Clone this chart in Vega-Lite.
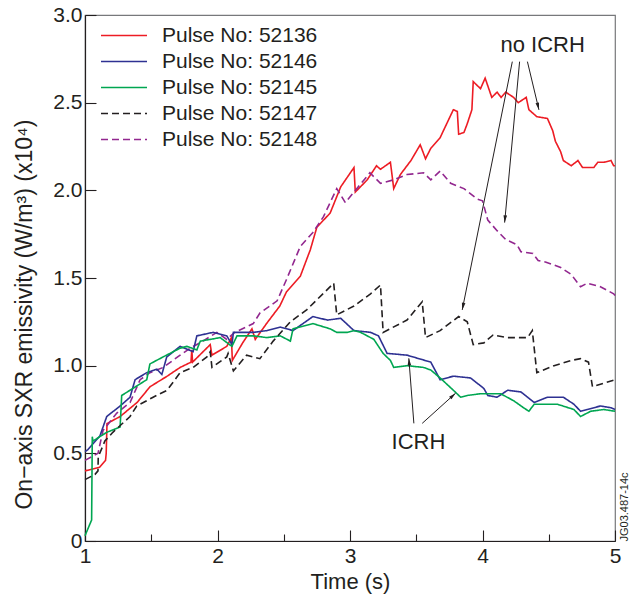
{
  "$schema": "https://vega.github.io/schema/vega-lite/v6.json",
  "width": 530,
  "height": 526,
  "autosize": {"type": "none"},
  "padding": {"left": 85, "top": 15, "right": 20, "bottom": 58},
  "background": "white",
  "config": {
    "font": "Liberation Sans",
    "view": {"stroke": "#77787b", "strokeWidth": 1.2},
    "axis": {"grid": false, "domainColor": "#231f20", "domainWidth": 1.2, "tickColor": "#231f20", "tickWidth": 1.1, "labelColor": "#231f20", "titleColor": "#231f20", "labelFont": "Liberation Sans", "titleFont": "Liberation Sans", "labelFontSize": 21, "titleFontSize": 22, "titleFontWeight": "normal"}
  },
  "layer": [
    {
      "data": {"values": [
        {"s":"52136","t":1.00,"v":0.40},{"s":"52136","t":1.11,"v":0.42},{"s":"52136","t":1.155,"v":0.46},{"s":"52136","t":1.16,"v":0.50},{"s":"52136","t":1.166,"v":0.67},{"s":"52136","t":1.265,"v":0.71},{"s":"52136","t":1.393,"v":0.79},{"s":"52136","t":1.491,"v":0.88},{"s":"52136","t":1.62,"v":0.94},{"s":"52136","t":1.718,"v":0.99},{"s":"52136","t":1.80,"v":1.02},{"s":"52136","t":1.806,"v":1.09},{"s":"52136","t":1.812,"v":1.02},{"s":"52136","t":1.945,"v":1.12},{"s":"52136","t":1.958,"v":1.06},{"s":"52136","t":2.07,"v":1.11},{"s":"52136","t":2.105,"v":1.16},{"s":"52136","t":2.112,"v":1.03},{"s":"52136","t":2.19,"v":1.13},{"s":"52136","t":2.26,"v":1.21},{"s":"52136","t":2.285,"v":1.15},{"s":"52136","t":2.37,"v":1.24},{"s":"52136","t":2.47,"v":1.34},{"s":"52136","t":2.52,"v":1.42},{"s":"52136","t":2.625,"v":1.51},{"s":"52136","t":2.70,"v":1.66},{"s":"52136","t":2.75,"v":1.79},{"s":"52136","t":2.85,"v":1.87},{"s":"52136","t":2.93,"v":2.02},{"s":"52136","t":3.03,"v":2.13},{"s":"52136","t":3.04,"v":1.99},{"s":"52136","t":3.13,"v":2.06},{"s":"52136","t":3.20,"v":2.14},{"s":"52136","t":3.23,"v":2.12},{"s":"52136","t":3.305,"v":2.16},{"s":"52136","t":3.33,"v":2.01},{"s":"52136","t":3.38,"v":2.09},{"s":"52136","t":3.46,"v":2.17},{"s":"52136","t":3.53,"v":2.26},{"s":"52136","t":3.57,"v":2.18},{"s":"52136","t":3.61,"v":2.24},{"s":"52136","t":3.68,"v":2.30},{"s":"52136","t":3.73,"v":2.38},{"s":"52136","t":3.78,"v":2.46},{"s":"52136","t":3.81,"v":2.45},{"s":"52136","t":3.82,"v":2.32},{"s":"52136","t":3.86,"v":2.33},{"s":"52136","t":3.885,"v":2.38},{"s":"52136","t":3.92,"v":2.46},{"s":"52136","t":3.93,"v":2.62},{"s":"52136","t":3.985,"v":2.58},{"s":"52136","t":4.02,"v":2.64},{"s":"52136","t":4.07,"v":2.53},{"s":"52136","t":4.11,"v":2.56},{"s":"52136","t":4.14,"v":2.53},{"s":"52136","t":4.175,"v":2.56},{"s":"52136","t":4.235,"v":2.53},{"s":"52136","t":4.27,"v":2.50},{"s":"52136","t":4.33,"v":2.53},{"s":"52136","t":4.35,"v":2.46},{"s":"52136","t":4.41,"v":2.42},{"s":"52136","t":4.49,"v":2.41},{"s":"52136","t":4.53,"v":2.34},{"s":"52136","t":4.55,"v":2.28},{"s":"52136","t":4.59,"v":2.22},{"s":"52136","t":4.61,"v":2.17},{"s":"52136","t":4.67,"v":2.14},{"s":"52136","t":4.72,"v":2.17},{"s":"52136","t":4.755,"v":2.13},{"s":"52136","t":4.84,"v":2.13},{"s":"52136","t":4.87,"v":2.16},{"s":"52136","t":4.915,"v":2.16},{"s":"52136","t":4.97,"v":2.17},{"s":"52136","t":4.99,"v":2.14},{"s":"52136","t":5.0,"v":2.14},

        {"s":"52148","t":1.0,"v":0.46},{"s":"52148","t":1.098,"v":0.50},{"s":"52148","t":1.136,"v":0.63},{"s":"52148","t":1.24,"v":0.73},{"s":"52148","t":1.34,"v":0.79},{"s":"52148","t":1.416,"v":0.92},{"s":"52148","t":1.49,"v":0.96},{"s":"52148","t":1.59,"v":0.99},{"s":"52148","t":1.718,"v":1.06},{"s":"52148","t":1.794,"v":1.10},{"s":"52148","t":1.89,"v":1.14},{"s":"52148","t":1.995,"v":1.19},{"s":"52148","t":2.07,"v":1.15},{"s":"52148","t":2.13,"v":1.19},{"s":"52148","t":2.27,"v":1.24},{"s":"52148","t":2.32,"v":1.30},{"s":"52148","t":2.45,"v":1.37},{"s":"52148","t":2.52,"v":1.49},{"s":"52148","t":2.625,"v":1.68},{"s":"52148","t":2.72,"v":1.76},{"s":"52148","t":2.80,"v":1.85},{"s":"52148","t":2.90,"v":2.01},{"s":"52148","t":2.965,"v":1.93},{"s":"52148","t":3.03,"v":1.99},{"s":"52148","t":3.15,"v":2.10},{"s":"52148","t":3.23,"v":2.04},{"s":"52148","t":3.33,"v":2.06},{"s":"52148","t":3.43,"v":2.09},{"s":"52148","t":3.555,"v":2.10},{"s":"52148","t":3.61,"v":2.06},{"s":"52148","t":3.68,"v":2.11},{"s":"52148","t":3.76,"v":2.04},{"s":"52148","t":3.86,"v":2.01},{"s":"52148","t":3.96,"v":1.95},{"s":"52148","t":4.0,"v":1.94},{"s":"52148","t":4.04,"v":1.83},{"s":"52148","t":4.11,"v":1.77},{"s":"52148","t":4.175,"v":1.72},{"s":"52148","t":4.26,"v":1.69},{"s":"52148","t":4.29,"v":1.65},{"s":"52148","t":4.38,"v":1.64},{"s":"52148","t":4.42,"v":1.60},{"s":"52148","t":4.48,"v":1.59},{"s":"52148","t":4.59,"v":1.56},{"s":"52148","t":4.67,"v":1.52},{"s":"52148","t":4.74,"v":1.45},{"s":"52148","t":4.79,"v":1.47},{"s":"52148","t":4.89,"v":1.45},{"s":"52148","t":4.99,"v":1.41},{"s":"52148","t":5.0,"v":1.40},

        {"s":"52146","t":1.0,"v":0.51},{"s":"52146","t":1.02,"v":0.52},{"s":"52146","t":1.113,"v":0.60},{"s":"52146","t":1.164,"v":0.71},{"s":"52146","t":1.265,"v":0.77},{"s":"52146","t":1.34,"v":0.82},{"s":"52146","t":1.378,"v":0.92},{"s":"52146","t":1.466,"v":0.96},{"s":"52146","t":1.542,"v":0.98},{"s":"52146","t":1.58,"v":0.95},{"s":"52146","t":1.617,"v":1.05},{"s":"52146","t":1.718,"v":1.11},{"s":"52146","t":1.816,"v":1.08},{"s":"52146","t":1.844,"v":1.17},{"s":"52146","t":1.967,"v":1.19},{"s":"52146","t":2.07,"v":1.17},{"s":"52146","t":2.109,"v":1.12},{"s":"52146","t":2.12,"v":1.19},{"s":"52146","t":2.27,"v":1.19},{"s":"52146","t":2.373,"v":1.20},{"s":"52146","t":2.474,"v":1.22},{"s":"52146","t":2.57,"v":1.20},{"s":"52146","t":2.72,"v":1.28},{"s":"52146","t":2.83,"v":1.26},{"s":"52146","t":2.93,"v":1.27},{"s":"52146","t":3.03,"v":1.20},{"s":"52146","t":3.155,"v":1.19},{"s":"52146","t":3.215,"v":1.17},{"s":"52146","t":3.28,"v":1.07},{"s":"52146","t":3.43,"v":1.06},{"s":"52146","t":3.61,"v":1.02},{"s":"52146","t":3.68,"v":0.92},{"s":"52146","t":3.78,"v":0.94},{"s":"52146","t":3.91,"v":0.93},{"s":"52146","t":4.01,"v":0.87},{"s":"52146","t":4.04,"v":0.83},{"s":"52146","t":4.11,"v":0.82},{"s":"52146","t":4.19,"v":0.86},{"s":"52146","t":4.29,"v":0.85},{"s":"52146","t":4.39,"v":0.79},{"s":"52146","t":4.49,"v":0.82},{"s":"52146","t":4.61,"v":0.82},{"s":"52146","t":4.69,"v":0.78},{"s":"52146","t":4.74,"v":0.74},{"s":"52146","t":4.79,"v":0.75},{"s":"52146","t":4.89,"v":0.77},{"s":"52146","t":4.97,"v":0.76},{"s":"52146","t":5.0,"v":0.75},

        {"s":"52145","t":1.0,"v":0.03},{"s":"52145","t":1.05,"v":0.12},{"s":"52145","t":1.055,"v":0.595},{"s":"52145","t":1.06,"v":0.57},{"s":"52145","t":1.164,"v":0.62},{"s":"52145","t":1.265,"v":0.65},{"s":"52145","t":1.277,"v":0.83},{"s":"52145","t":1.34,"v":0.86},{"s":"52145","t":1.466,"v":0.92},{"s":"52145","t":1.49,"v":1.01},{"s":"52145","t":1.59,"v":1.05},{"s":"52145","t":1.718,"v":1.10},{"s":"52145","t":1.77,"v":1.11},{"s":"52145","t":1.844,"v":1.09},{"s":"52145","t":1.87,"v":1.14},{"s":"52145","t":2.02,"v":1.16},{"s":"52145","t":2.109,"v":1.11},{"s":"52145","t":2.147,"v":1.17},{"s":"52145","t":2.27,"v":1.17},{"s":"52145","t":2.373,"v":1.16},{"s":"52145","t":2.474,"v":1.17},{"s":"52145","t":2.55,"v":1.14},{"s":"52145","t":2.57,"v":1.21},{"s":"52145","t":2.72,"v":1.24},{"s":"52145","t":2.85,"v":1.21},{"s":"52145","t":2.90,"v":1.19},{"s":"52145","t":2.98,"v":1.19},{"s":"52145","t":3.03,"v":1.20},{"s":"52145","t":3.08,"v":1.19},{"s":"52145","t":3.18,"v":1.15},{"s":"52145","t":3.25,"v":1.07},{"s":"52145","t":3.305,"v":1.03},{"s":"52145","t":3.33,"v":0.99},{"s":"52145","t":3.43,"v":1.00},{"s":"52145","t":3.555,"v":0.99},{"s":"52145","t":3.61,"v":0.975},{"s":"52145","t":3.68,"v":0.93},{"s":"52145","t":3.78,"v":0.86},{"s":"52145","t":3.835,"v":0.82},{"s":"52145","t":3.885,"v":0.83},{"s":"52145","t":3.986,"v":0.84},{"s":"52145","t":4.137,"v":0.84},{"s":"52145","t":4.235,"v":0.80},{"s":"52145","t":4.31,"v":0.76},{"s":"52145","t":4.35,"v":0.74},{"s":"52145","t":4.39,"v":0.78},{"s":"52145","t":4.565,"v":0.78},{"s":"52145","t":4.69,"v":0.75},{"s":"52145","t":4.74,"v":0.71},{"s":"52145","t":4.817,"v":0.74},{"s":"52145","t":4.915,"v":0.75},{"s":"52145","t":5.0,"v":0.74},

        {"s":"52147","t":1.0,"v":0.35},{"s":"52147","t":1.076,"v":0.38},{"s":"52147","t":1.098,"v":0.40},{"s":"52147","t":1.10,"v":0.48},{"s":"52147","t":1.15,"v":0.57},{"s":"52147","t":1.21,"v":0.62},{"s":"52147","t":1.34,"v":0.71},{"s":"52147","t":1.39,"v":0.77},{"s":"52147","t":1.514,"v":0.82},{"s":"52147","t":1.62,"v":0.86},{"s":"52147","t":1.718,"v":0.96},{"s":"52147","t":1.816,"v":0.99},{"s":"52147","t":1.92,"v":1.05},{"s":"52147","t":1.945,"v":1.08},{"s":"52147","t":1.958,"v":0.99},{"s":"52147","t":2.07,"v":1.05},{"s":"52147","t":2.08,"v":1.07},{"s":"52147","t":2.12,"v":0.97},{"s":"52147","t":2.22,"v":1.06},{"s":"52147","t":2.32,"v":1.04},{"s":"52147","t":2.42,"v":1.14},{"s":"52147","t":2.55,"v":1.25},{"s":"52147","t":2.675,"v":1.32},{"s":"52147","t":2.877,"v":1.47},{"s":"52147","t":2.90,"v":1.29},{"s":"52147","t":3.03,"v":1.34},{"s":"52147","t":3.155,"v":1.41},{"s":"52147","t":3.23,"v":1.46},{"s":"52147","t":3.25,"v":1.19},{"s":"52147","t":3.43,"v":1.26},{"s":"52147","t":3.545,"v":1.365},{"s":"52147","t":3.57,"v":1.16},{"s":"52147","t":3.68,"v":1.20},{"s":"52147","t":3.82,"v":1.28},{"s":"52147","t":3.885,"v":1.25},{"s":"52147","t":3.93,"v":1.12},{"s":"52147","t":4.01,"v":1.13},{"s":"52147","t":4.08,"v":1.175},{"s":"52147","t":4.19,"v":1.16},{"s":"52147","t":4.34,"v":1.16},{"s":"52147","t":4.376,"v":1.20},{"s":"52147","t":4.41,"v":0.96},{"s":"52147","t":4.54,"v":1.00},{"s":"52147","t":4.67,"v":1.03},{"s":"52147","t":4.74,"v":1.04},{"s":"52147","t":4.80,"v":1.02},{"s":"52147","t":4.83,"v":0.88},{"s":"52147","t":4.915,"v":0.90},{"s":"52147","t":5.0,"v":0.92}
      ]},
      "mark": {"type": "line", "strokeWidth": 1.6, "interpolate": "linear"},
      "encoding": {
        "x": {"field": "t", "type": "quantitative", "scale": {"domain": [1, 5], "nice": false, "zero": false},
          "axis": {"title": "Time (s)", "values": [1, 1.5, 2, 2.5, 3, 3.5, 4, 4.5, 5], "labelExpr": "datum.value % 1 === 0 ? format(datum.value, 'd') : ''", "tickSize": {"condition": {"test": "datum.value % 1 === 0", "value": -11}, "value": -7}, "labelPadding": 15, "labelFlush": false, "titleBaseline": "middle", "titleY": 40}},
        "y": {"field": "v", "type": "quantitative", "scale": {"domain": [0, 3], "nice": false},
          "axis": {"title": "On\u2212axis SXR emissivity (W/m\u00b3) (x10\u2074)", "titleFontSize": 23, "values": [0, 0.5, 1, 1.5, 2, 2.5, 3], "labelExpr": "datum.value === 0 ? '0' : format(datum.value, '.1f')", "tickSize": -11, "labelPadding": 14, "titleAngle": 270, "titleAlign": "center", "titleBaseline": "middle", "titleX": -61, "titleY": 299}},
        "color": {"field": "s", "type": "nominal",
          "scale": {"domain": ["52136", "52146", "52145", "52147", "52148"], "range": ["#ed1c24", "#2e3192", "#00a651", "#231f20", "#92278f"]},
          "legend": {"title": null, "orient": "none", "legendX": 26.5, "legendY": 8, "symbolType": "M-2,0L2,0", "symbolSize": 529, "symbolStrokeWidth": 1.5, "labelFontSize": 21, "labelFont": "Liberation Sans", "labelColor": "#231f20", "labelOffset": 25.5, "rowPadding": 3, "padding": 0, "labelExpr": "'Pulse No: ' + datum.label"}},
        "strokeDash": {"field": "s", "type": "nominal",
          "scale": {"domain": ["52136", "52146", "52145", "52147", "52148"], "range": [[1, 0], [1, 0], [1, 0], [7, 4], [7, 4]]},
          "legend": {"title": null, "orient": "none", "legendX": 26.5, "legendY": 8, "symbolType": "M-2,0L2,0", "symbolSize": 529, "symbolStrokeWidth": 1.5, "labelFontSize": 21, "labelFont": "Liberation Sans", "labelColor": "#231f20", "labelOffset": 25.5, "rowPadding": 3, "padding": 0, "labelExpr": "'Pulse No: ' + datum.label"}}
      }
    },
    {
      "data": {"values": [
        {"x1": 4.225, "y1": 2.734, "x2": 3.847, "y2": 1.318},
        {"x1": 4.28, "y1": 2.734, "x2": 4.167, "y2": 1.816},
        {"x1": 4.339, "y1": 2.734, "x2": 4.426, "y2": 2.459},
        {"x1": 3.482, "y1": 0.671, "x2": 3.444, "y2": 1.042},
        {"x1": 3.545, "y1": 0.671, "x2": 3.797, "y2": 0.843}
      ]},
      "layer": [
        {
          "mark": {"type": "rule", "color": "#231f20", "strokeWidth": 1},
          "encoding": {
            "x": {"field": "x1", "type": "quantitative"},
            "y": {"field": "y1", "type": "quantitative"},
            "x2": {"field": "x2"},
            "y2": {"field": "y2"}
          }
        },
        {
          "transform": [{"calculate": "atan2((datum.x2 - datum.x1) * 132.5, (datum.y2 - datum.y1) * 175.3) * 180 / PI", "as": "ang"}],
          "mark": {"type": "point", "filled": true, "color": "#231f20", "opacity": 1, "shape": "M0,0L-0.6,2.4L0.6,2.4Z", "size": 36, "strokeWidth": 0},
          "encoding": {
            "x": {"field": "x2", "type": "quantitative"},
            "y": {"field": "y2", "type": "quantitative"},
            "angle": {"field": "ang", "type": "quantitative", "scale": null}
          }
        }
      ]
    },
    {
      "data": {"values": [
        {"label": "no ICRH", "t": 4.454, "v": 2.83},
        {"label": "ICRH", "t": 3.517, "v": 0.565}
      ]},
      "mark": {"type": "text", "fontSize": 22, "font": "Liberation Sans", "color": "#231f20", "align": "center", "baseline": "middle"},
      "encoding": {
        "x": {"field": "t", "type": "quantitative"},
        "y": {"field": "v", "type": "quantitative"},
        "text": {"field": "label"}
      }
    },
    {
      "data": {"values": [{"label": "JG03.487-14c", "t": 5.074, "v": 0.194}]},
      "mark": {"type": "text", "fontSize": 11, "font": "Liberation Sans", "color": "#231f20", "align": "center", "baseline": "middle", "angle": 270},
      "encoding": {
        "x": {"field": "t", "type": "quantitative"},
        "y": {"field": "v", "type": "quantitative"},
        "text": {"field": "label"}
      }
    }
  ]
}
